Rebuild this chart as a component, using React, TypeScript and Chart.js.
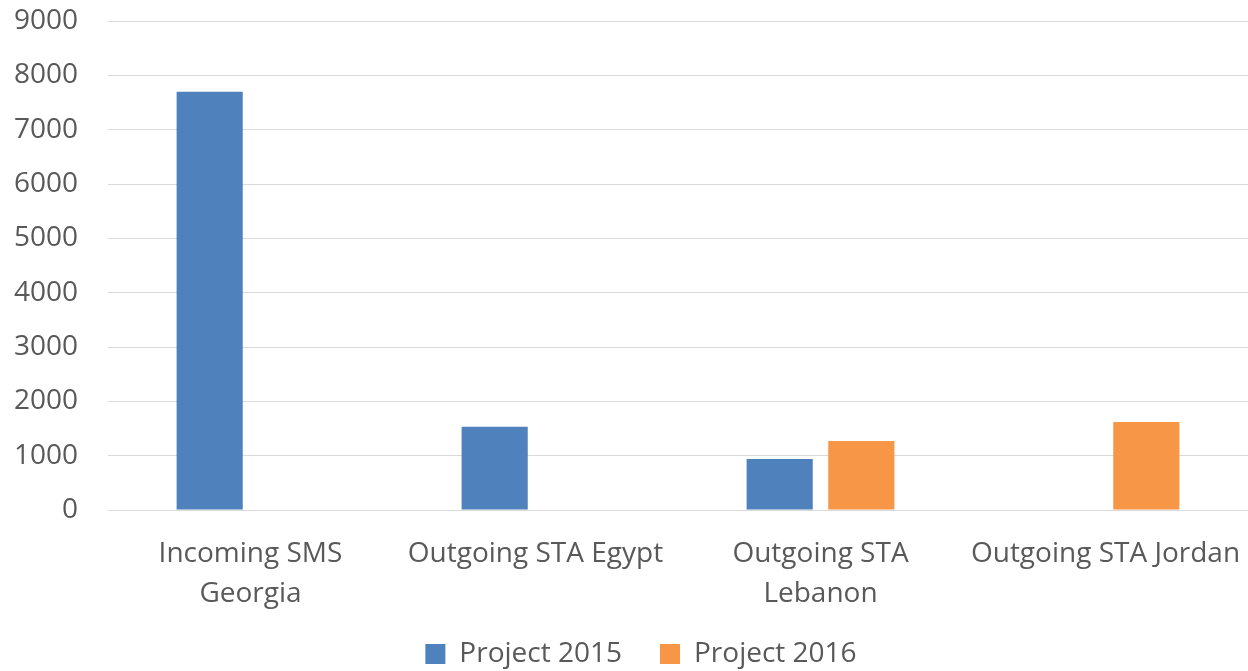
import React, { useEffect, useRef } from "react";
import { Chart, registerables } from "chart.js";

Chart.register(...registerables);

const categories: (string | string[])[] = [
  ["Incoming SMS", "Georgia"],
  "Outgoing STA Egypt",
  ["Outgoing STA", "Lebanon"],
  "Outgoing STA Jordan",
];
const project2015: (number | null)[] = [7700, 1530, 940, null];
const project2016: (number | null)[] = [null, null, 1270, 1620];
const seriesNames = ["Project 2015", "Project 2016"];
const yTicksMin = 0;
const yTicksMax = 9000;
const yTicksStep = 1000;

const FONT = "'Open Sans', sans-serif";
const TEXT = "#595959";

const layoutTweaks = {
  id: "layoutTweaks",
  afterLayout(chart: any) {
    const l = chart.legend;
    if (l) {
      l.left += 17;
      l.right += 17;
    }
    const x = chart.scales.x;
    if (x) x.bottom += 30;
  },
};

export default function App() {
  const ref = useRef<HTMLCanvasElement>(null);
  useEffect(() => {
    if (!ref.current) return;
    const chart = new Chart(ref.current, {
      type: "bar",
      data: {
        labels: categories,
        datasets: [
          {
            label: seriesNames[0],
            data: project2015,
            backgroundColor: "#4F81BD",
            categoryPercentage: 0.573,
            barPercentage: 0.81,
          },
          {
            label: seriesNames[1],
            data: project2016,
            backgroundColor: "#F79646",
            categoryPercentage: 0.573,
            barPercentage: 0.81,
          },
        ],
      },
      plugins: [layoutTweaks],
      options: {
        responsive: false,
        animation: false,
        layout: { padding: { top: 21, bottom: -7, left: 0, right: 0 } },
        plugins: {
          tooltip: { enabled: false },
          legend: {
            position: "bottom",
            labels: {
              color: TEXT,
              font: { family: FONT, size: 28 },
              boxWidth: 20,
              boxHeight: 20,
              padding: 38,
            },
          },
        },
        scales: {
          x: {
            grid: {
              display: true,
              drawOnChartArea: false,
              drawTicks: true,
              tickLength: 24,
              tickColor: "rgba(0,0,0,0)",
              color: "rgba(0,0,0,0)",
            },
            border: { display: false },
            ticks: {
              color: TEXT,
              font: { family: FONT, size: 28, lineHeight: 1.43 },
              padding: 0,
              maxRotation: 0,
              autoSkip: false,
            },
            afterFit: (s: any) => {
              s.height = 92;
            },
          },
          y: {
            min: yTicksMin,
            max: yTicksMax,
            grid: {
              color: "#D9D9D9",
              lineWidth: 1,
              drawTicks: true,
              tickLength: 30,
              tickColor: "rgba(0,0,0,0)",
            },
            border: { display: false },
            ticks: {
              stepSize: yTicksStep,
              color: TEXT,
              font: { family: FONT, size: 28 },
              padding: 0,
              callback: (v: any) => String(v),
            },
            afterFit: (s: any) => {
              s.width = 108;
            },
          },
        },
      },
    });
    return () => chart.destroy();
  }, []);
  return (
    <div style={{ position: "fixed", left: 0, top: 0, width: 1248, height: 671, background: "#fff" }}>
      <canvas ref={ref} width={1248} height={671} style={{ display: "block" }} />
    </div>
  );
}
